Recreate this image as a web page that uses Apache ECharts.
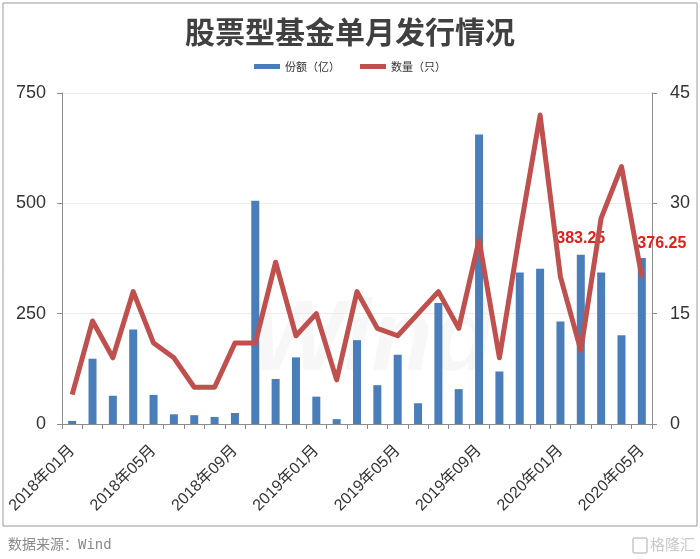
<!DOCTYPE html>
<html>
<head>
<meta charset="utf-8">
<script src="https://cdn.jsdelivr.net/npm/echarts@6/dist/echarts.min.js"></script>
<style>
html,body{margin:0;padding:0;background:#fff;}
#chart{width:700px;height:559px;}
</style>
</head>
<body>
<div id="chart"></div>
<script>
var months = ['2018年01月','2018年02月','2018年03月','2018年04月','2018年05月','2018年06月','2018年07月','2018年08月','2018年09月','2018年10月','2018年11月','2018年12月',
  '2019年01月','2019年02月','2019年03月','2019年04月','2019年05月','2019年06月','2019年07月','2019年08月','2019年09月','2019年10月','2019年11月','2019年12月',
  '2020年01月','2020年02月','2020年03月','2020年04月','2020年05月'];
var shares = [7,148,64,214,66,22,20,16,25,506,102,151,62,11,190,88,157,47,274,79,656,119,343,352,232,383.25,343,201,376.25];
var counts = [4,14,9,18,11,9,5,5,11,11,22,12,15,6,18,13,12,15,18,13,25,9,26,42,20,10,28,35,20];
var leftTicks = [0,250,500,750];
var rightTicks = [0,15,30,45];
var labelled = {25: [0, 0], 28: [20, 2]};

var FONT = '"Liberation Sans", Arial, "Noto Sans CJK SC", sans-serif';
var chart = echarts.init(document.getElementById('chart'), null, {renderer: 'canvas'});

var barData = shares.map(function (v, i) {
  if (labelled[i]) {
    return {value: v, label: {show: true, position: 'top', distance: 8, offset: labelled[i],
      color: '#e0201b', fontSize: 16, fontWeight: 'bold', fontFamily: FONT}};
  }
  return v;
});

chart.setOption({
  animation: false,
  backgroundColor: '#fff',
  title: {
    text: '股票型基金单月发行情况', left: 'center', top: 12,
    textStyle: {fontSize: 30, fontWeight: 'bold', color: '#404040', fontFamily: '"Noto Sans CJK SC", sans-serif'}
  },
  legend: {
    top: 56, left: 'center', itemWidth: 26, itemHeight: 5, itemGap: 20,
    textStyle: {fontSize: 11, color: '#333', fontFamily: '"Noto Sans CJK SC", sans-serif'},
    data: [{name: '份额（亿）', icon: 'rect'}, {name: '数量（只）', icon: 'rect'}]
  },
  graphic: [
    {type: 'rect', z: -1, shape: {x: 3, y: 3, width: 694, height: 523}, style: {fill: 'none', stroke: '#9a9a9a', lineWidth: 1}},
    {type: 'text', z: -1, left: 250, top: 292, style: {text: 'Wind', fontSize: 100, fontWeight: 'bold', fontStyle: 'italic', fill: 'rgba(0,0,0,0.03)', fontFamily: FONT}},
    {type: 'text', left: 8, top: 538, style: {text: '数据来源：Wind', fontSize: 14, fill: '#8a8a8a', fontFamily: '"DejaVu Sans Mono", "Noto Sans CJK SC", monospace'}},
    {type: 'rect', shape: {x: 633, y: 538, width: 14, height: 15, r: 2}, style: {fill: 'none', stroke: '#c8c8c8', lineWidth: 1.5}},
    {type: 'text', left: 650, top: 537, style: {text: '格隆汇', fontSize: 15, fill: '#c8c8c8', fontFamily: '"Noto Sans CJK SC", sans-serif'}}
  ],
  grid: {left: 62, right: 48, top: 93, bottom: 135, containLabel: false},
  xAxis: {
    type: 'category', data: months, boundaryGap: true,
    axisLine: {lineStyle: {color: '#8c8c8c'}},
    axisTick: {show: true, alignWithLabel: false, interval: 0, length: 5, lineStyle: {color: '#8c8c8c'}},
    axisLabel: {interval: 3, rotate: 45, margin: 24, fontSize: 16, color: '#333', fontFamily: FONT}
  },
  yAxis: [
    {
      type: 'value', min: leftTicks[0], max: leftTicks[leftTicks.length - 1], interval: leftTicks[1] - leftTicks[0],
      axisLine: {show: true, lineStyle: {color: '#8c8c8c'}},
      axisTick: {show: true, length: 5, lineStyle: {color: '#8c8c8c'}},
      axisLabel: {fontSize: 18, color: '#333', margin: 16, fontFamily: FONT},
      splitLine: {show: true, lineStyle: {color: '#ececec'}}
    },
    {
      type: 'value', min: rightTicks[0], max: rightTicks[rightTicks.length - 1], interval: rightTicks[1] - rightTicks[0],
      position: 'right',
      axisLine: {show: true, lineStyle: {color: '#8c8c8c'}},
      axisTick: {show: true, length: 5, lineStyle: {color: '#8c8c8c'}},
      axisLabel: {fontSize: 18, color: '#333', margin: 18, fontFamily: FONT},
      splitLine: {show: false}
    }
  ],
  series: [
    {
      name: '份额（亿）', type: 'bar', yAxisIndex: 0, data: barData, barWidth: 8,
      itemStyle: {color: '#4a7ebb'}, z: 2
    },
    {
      name: '数量（只）', type: 'line', yAxisIndex: 1, data: counts, showSymbol: false, symbol: 'none',
      lineStyle: {color: '#c0504d', width: 5, join: 'round'}, itemStyle: {color: '#c0504d'}, z: 3
    }
  ]
});
</script>
</body>
</html>
